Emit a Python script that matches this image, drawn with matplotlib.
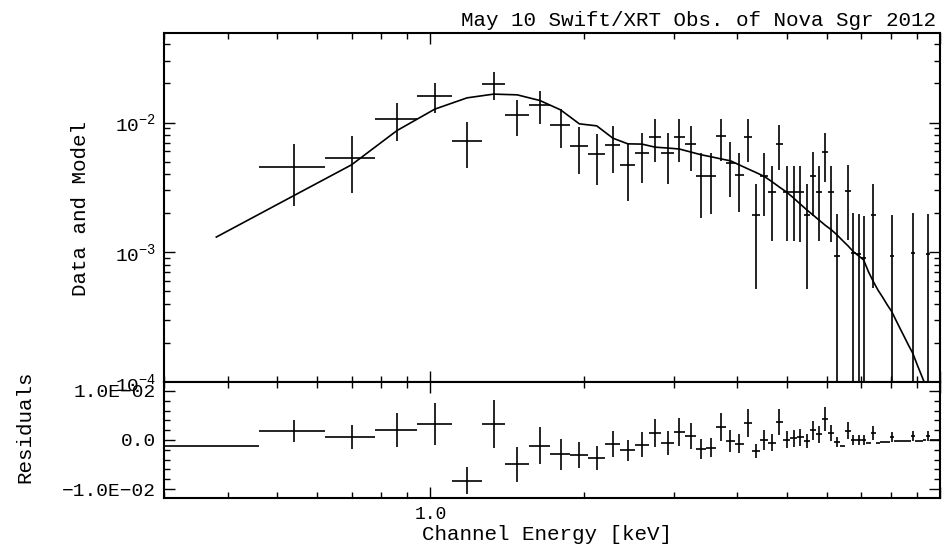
import numpy as np
import matplotlib
matplotlib.use('Agg')
import matplotlib.pyplot as plt
from matplotlib.ticker import FixedLocator, FixedFormatter, NullFormatter, MultipleLocator

plt.rcParams['font.family'] = ['Liberation Mono', 'DejaVu Sans']
plt.rcParams['mathtext.fontset'] = 'custom'
plt.rcParams['mathtext.rm'] = 'Liberation Mono'

# channel bins (keV): 0.16 keV groups
e_lo = [0.30, 0.46, 0.62, 0.78, 0.94, 1.10, 1.26, 1.40, 1.56, 1.72,
        1.88, 2.04, 2.20, 2.36, 2.52, 2.68, 2.84, 3.00, 3.16, 3.32,
        3.48, 3.64, 3.80, 3.96, 4.12, 4.28, 4.44, 4.60, 4.76, 4.92,
        5.08, 5.24, 5.40, 5.56, 5.72, 5.88, 6.04, 6.20, 6.36, 6.52,
        6.68, 6.84, 7.00, 7.16, 7.32, 7.48, 7.64, 7.80, 7.96, 8.12,
        8.28, 8.44, 8.60, 8.76, 8.92, 9.08, 9.24, 9.40, 9.56, 9.72,
        9.88]
e_hi = [0.46, 0.62, 0.78, 0.94, 1.10, 1.26, 1.40, 1.56, 1.72, 1.88,
        2.04, 2.20, 2.36, 2.52, 2.68, 2.84, 3.00, 3.16, 3.32, 3.48,
        3.64, 3.80, 3.96, 4.12, 4.28, 4.44, 4.60, 4.76, 4.92, 5.08,
        5.24, 5.40, 5.56, 5.72, 5.88, 6.04, 6.20, 6.36, 6.52, 6.68,
        6.84, 7.00, 7.16, 7.32, 7.48, 7.64, 7.80, 7.96, 8.12, 8.28,
        8.44, 8.60, 8.76, 8.92, 9.08, 9.24, 9.40, 9.56, 9.72, 9.88,
        10.04]

# data (counts/s/keV) and 1-sigma errors, 0 = empty channel group
data = [0, 4.55e-3, 5.37e-3, 1.074e-2, 1.60e-2, 7.26e-3, 1.977e-2, 1.14e-2, 1.362e-2, 9.60e-3,
        6.65e-3, 5.74e-3, 6.73e-3, 4.72e-3, 5.87e-3, 7.80e-3, 5.81e-3, 7.80e-3, 6.82e-3, 3.84e-3,
        3.88e-3, 7.90e-3, 4.91e-3, 3.95e-3, 7.80e-3, 1.94e-3, 3.88e-3, 2.94e-3, 6.89e-3, 2.94e-3,
        2.94e-3, 2.91e-3, 1.94e-3, 3.90e-3, 2.94e-3, 5.91e-3, 2.91e-3, 9.43e-4, 0, 2.97e-3,
        9.95e-4, 9.72e-4, 9.00e-4, 0, 1.94e-3, 0, 0, 0, 9.43e-4, 0,
        0, 0, 0, 9.95e-4, 0, 0, 0, 9.72e-4, 0, 0,
        0]
err = [0, 2.26e-3, 2.50e-3, 3.50e-3, 4.25e-3, 2.83e-3, 4.90e-3, 3.50e-3, 3.80e-3, 3.20e-3,
       2.65e-3, 2.45e-3, 2.65e-3, 2.22e-3, 2.48e-3, 2.84e-3, 2.45e-3, 2.84e-3, 2.62e-3, 1.99e-3,
       1.92e-3, 2.84e-3, 2.23e-3, 1.92e-3, 2.80e-3, 1.42e-3, 1.98e-3, 1.72e-3, 2.61e-3, 1.72e-3,
       1.72e-3, 1.72e-3, 1.42e-3, 1.98e-3, 1.72e-3, 2.43e-3, 1.72e-3, 1.02e-3, 0, 1.72e-3,
       1.00e-3, 1.00e-3, 1.00e-3, 0, 1.41e-3, 0, 0, 0, 1.00e-3, 0,
       0, 0, 0, 1.00e-3, 0, 0, 0, 1.00e-3, 0, 0,
       0]
# folded model at the bin centres
model = [1.31e-3, 2.74e-3, 4.72e-3, 8.68e-3, 1.269e-2, 1.55e-2, 1.656e-2, 1.635e-2, 1.478e-2, 1.253e-2,
         9.77e-3, 9.43e-3, 7.58e-3, 6.85e-3, 6.82e-3, 6.46e-3, 6.36e-3, 6.25e-3, 5.93e-3, 5.64e-3,
         5.44e-3, 5.24e-3, 5.07e-3, 4.71e-3, 4.39e-3, 4.11e-3, 3.84e-3, 3.50e-3, 3.18e-3, 2.91e-3,
         2.62e-3, 2.35e-3, 2.12e-3, 1.93e-3, 1.76e-3, 1.61e-3, 1.49e-3, 1.36e-3, 1.23e-3, 1.12e-3,
         1.01e-3, 9.40e-4, 8.74e-4, 7.06e-4, 5.94e-4, 5.09e-4, 4.49e-4, 3.93e-4, 3.49e-4, 2.98e-4,
         2.56e-4, 2.21e-4, 1.91e-4, 1.67e-4, 1.39e-4, 1.17e-4, 9.9e-5, 8.3e-5, 7.1e-5, 6.2e-5,
         5.4e-5]

e_lo = np.array(e_lo)
e_hi = np.array(e_hi)
data = np.array(data)
err = np.array(err)
model = np.array(model)
cen = (e_lo + e_hi) / 2
xerr = [cen - e_lo, cen - e_lo]
resid = data - model
ok = data > 0

W, H = 945, 547
fig = plt.figure(figsize=(W / 100, H / 100), dpi=100)
ax1 = fig.add_axes([164 / W, 1 - 382 / H, 776 / W, 349 / H])
ax2 = fig.add_axes([164 / W, 1 - 498 / H, 776 / W, 116 / H])

lw = 1.2
lo_err = np.minimum(err, data - 1e-9)
ax1.errorbar(cen[ok], data[ok], xerr=[xerr[0][ok], xerr[1][ok]],
             yerr=[lo_err[ok], err[ok]], fmt='none', ecolor='k', elinewidth=lw, capsize=0)
ax1.plot(cen, model, 'k-', lw=lw)
ax2.errorbar(cen, resid, xerr=xerr, yerr=err, fmt='none', ecolor='k', elinewidth=lw, capsize=0)

minors = [0.3, 0.4, 0.5, 0.6, 0.7, 0.8, 0.9, 2, 3, 4, 5, 6, 7, 8, 9]
for ax in (ax1, ax2):
    ax.set_xscale('log')
    ax.set_xlim(0.3, 10)
    ax.xaxis.set_major_locator(FixedLocator([1.0, 10.0]))
    ax.xaxis.set_minor_locator(FixedLocator(minors))
    ax.xaxis.set_minor_formatter(NullFormatter())
    ax.tick_params(which='both', direction='in', top=True, right=True, labelsize=13, pad=6)
    ax.tick_params(axis='y', labelsize=14)
    ax.tick_params(which='major', length=8, width=1)
    ax.tick_params(which='minor', length=4, width=1)
    for s in ax.spines.values():
        s.set_linewidth(1.5)

ax1.set_yscale('log')
ax1.set_ylim(1e-4, 0.049)
ax1.tick_params(labelbottom=False)
ax1.yaxis.set_major_locator(FixedLocator([1e-4, 1e-3, 1e-2]))
ax1.yaxis.set_major_formatter(FixedFormatter([r'$\mathregular{10^{-4}}$',
                                              r'$\mathregular{10^{-3}}$',
                                              r'$\mathregular{10^{-2}}$']))
ax1.yaxis.set_minor_locator(matplotlib.ticker.LogLocator(base=10, subs=np.arange(2, 10)))
ax1.yaxis.set_minor_formatter(NullFormatter())

ax2.xaxis.set_major_formatter(FixedFormatter(['1.0', '']))
ax2.set_ylim(-0.0118, 0.0118)
ax2.yaxis.set_major_locator(FixedLocator([-0.01, 0.0, 0.01]))
ax2.yaxis.set_major_formatter(FixedFormatter(['\u22121.0E\u221202', '0.0', '1.0E\u221202']))
ax2.yaxis.set_minor_locator(MultipleLocator(0.002))

fig.text(936 / W, 1 - 26 / H, 'May 10 Swift/XRT Obs. of Nova Sgr 2012',
         ha='right', va='baseline', fontsize=15)
fig.text(81 / W, 1 - 208 / H, 'Data and Model', rotation=90,
         ha='center', va='center', fontsize=15)
fig.text(25 / W, 1 - 427 / H, 'Residuals', rotation=90,
         ha='center', va='center', fontsize=15)
fig.text(422 / W, 1 - 540 / H, 'Channel Energy [keV]',
         ha='left', va='baseline', fontsize=15)

fig.savefig('out.png', dpi=100)
